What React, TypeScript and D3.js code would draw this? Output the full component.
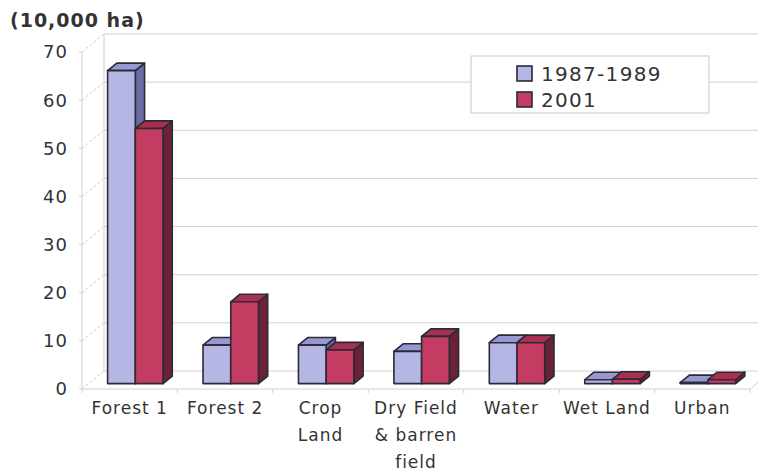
import React from 'react';
import * as d3 from 'd3';

const categories = [
  ['Forest 1'],
  ['Forest 2'],
  ['Crop', 'Land'],
  ['Dry Field', '& barren', 'field'],
  ['Water'],
  ['Wet Land'],
  ['Urban'],
];
const seriesNames = ['1987-1989', '2001'];
const values1987 = [65, 8, 8, 6.7, 8.5, 0.8, 0.2];
const values2001 = [53, 17, 7, 9.8, 8.5, 0.9, 0.8];
const yTicks = [0, 10, 20, 30, 40, 50, 60, 70];

const W = 758;
const H = 472;
const left = 82;
const right = 750;
const base = 389;
const top = 52;
const depthX = 22;
const depthY = -18;

const palette = [
  { front: '#b6b6e4', top: '#9898d0', side: '#6c6ca4' },
  { front: '#c43c62', top: '#a8304e', side: '#6c2236' },
];

const font = '"DejaVu Sans", sans-serif';

export default function App() {
  const names = categories.map((c) => c.join(' '));
  const x = d3.scaleBand().domain(names).range([left, right]).padding(0);
  const y = d3.scaleLinear().domain([0, 70]).range([base, top]);
  const inner = d3
    .scaleBand()
    .domain(seriesNames)
    .range([19, x.bandwidth() - 21])
    .padding(0);

  // bars sit in the middle of the depth
  const offX = depthX * 0.3;
  const offY = depthY * 0.3;
  const bdX = depthX * 0.42;
  const bdY = depthY * 0.42;

  const bars: any[] = [];
  names.forEach((name, i) => {
    [values1987, values2001].forEach((vals, s) => {
      const x0 = (x(name) as number) + (inner(seriesNames[s]) as number) + offX;
      const x1 = x0 + inner.bandwidth();
      const yb = y(0) + offY;
      const yt = y(vals[i]) + offY;
      bars.push({ key: `${i}-${s}`, x0, x1, yb, yt, c: palette[s] });
    });
  });

  const line = d3.line();

  return (
    <svg
      width={W}
      height={H}
      style={{ position: 'absolute', left: 0, top: 0, background: '#fff' }}
      fontFamily={font}
    >
      <text x={10} y={27} fontSize={19} fontWeight="bold" fill="#333" letterSpacing={1}>
        (10,000 ha)
      </text>

      {/* back wall */}
      <g stroke="#d0d0d0" strokeWidth={1} fill="none">
        <line x1={left + depthX} x2={left + depthX} y1={top + depthY} y2={base + depthY} />
        <line x1={left} x2={left} y1={top} y2={base} />
        {yTicks.map((t) => (
          <g key={t}>
            <line x1={left + depthX} x2={W + 20} y1={y(t) + depthY} y2={y(t) + depthY} />
            <line
              x1={left}
              y1={y(t)}
              x2={left + depthX}
              y2={y(t) + depthY}
              strokeDasharray="3,2"
            />
            <line x1={left - 3} x2={left} y1={y(t)} y2={y(t)} />
          </g>
        ))}
        <line x1={left} x2={right} y1={base} y2={base} />
        <line x1={right} y1={base} x2={right + depthX} y2={base + depthY} />
        {names.map((n) => (
          <line key={n} x1={x(n)} x2={x(n)} y1={base} y2={base + 4} />
        ))}
        <line x1={right} x2={right} y1={base} y2={base + 4} />
      </g>

      {/* y labels */}
      {yTicks.map((t) => (
        <text
          key={t}
          x={68}
          y={y(t)}
          dy="0.36em"
          textAnchor="end"
          fontSize={18}
          fill="#333"
          letterSpacing={1}
        >
          {t}
        </text>
      ))}

      {/* bars */}
      <g stroke="#2a2a38" strokeWidth={1.6} strokeLinejoin="round">
        {bars.map((b) => (
          <g key={b.key}>
            <path
              d={line([
                [b.x1, b.yt],
                [b.x1 + bdX, b.yt + bdY],
                [b.x1 + bdX, b.yb + bdY],
                [b.x1, b.yb],
              ]) + 'Z'}
              fill={b.c.side}
            />
            <path
              d={line([
                [b.x0, b.yt],
                [b.x0 + bdX, b.yt + bdY],
                [b.x1 + bdX, b.yt + bdY],
                [b.x1, b.yt],
              ]) + 'Z'}
              fill={b.c.top}
            />
            <rect
              x={b.x0}
              y={b.yt}
              width={b.x1 - b.x0}
              height={Math.max(0, b.yb - b.yt)}
              fill={b.c.front}
            />
          </g>
        ))}
      </g>

      {/* category labels */}
      {categories.map((lines, i) => (
        <text
          key={i}
          x={(x(names[i]) as number) + x.bandwidth() / 2}
          textAnchor="middle"
          fontSize={17}
          fill="#333"
          letterSpacing={1}
        >
          {lines.map((l, j) => (
            <tspan key={j} x={(x(names[i]) as number) + x.bandwidth() / 2} y={414 + j * 27}>
              {l}
            </tspan>
          ))}
        </text>
      ))}

      {/* legend */}
      <rect x={471} y={56} width={238} height={57} fill="#fff" stroke="#c8c8c8" />
      {seriesNames.map((s, i) => (
        <g key={s}>
          <rect
            x={517}
            y={66 + i * 26}
            width={15}
            height={15}
            fill={palette[i].front}
            stroke="#2a2a38"
            strokeWidth={1.6}
          />
          <text x={541} y={74 + i * 26} dy="0.36em" fontSize={20} fill="#333" letterSpacing={1.3}>
            {s}
          </text>
        </g>
      ))}
    </svg>
  );
}
